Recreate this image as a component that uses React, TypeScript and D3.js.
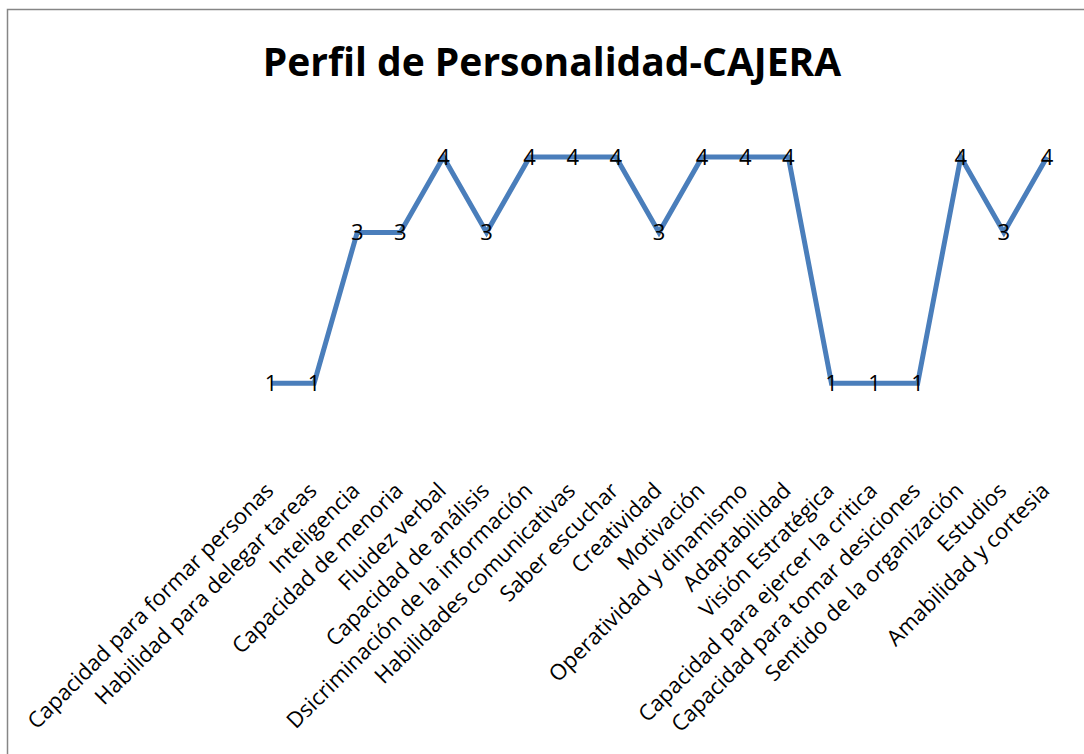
import React, { useEffect, useRef } from "react";
import * as d3 from "d3";

const categories = [
  "Capacidad para formar personas",
  "Habilidad para delegar tareas",
  "Inteligencia",
  "Capacidad de menoria",
  "Fluidez verbal",
  "Capacidad de análisis",
  "Dsicriminación de la información",
  "Habilidades comunicativas",
  "Saber escuchar",
  "Creatividad",
  "Motivación",
  "Operatividad y dinamismo",
  "Adaptabilidad",
  "Visión Estratégica",
  "Capacidad para ejercer la critica",
  "Capacidad para tomar desiciones",
  "Sentido de la organización",
  "Estudios",
  "Amabilidad y cortesia",
];
const values = [1, 1, 3, 3, 4, 3, 4, 4, 4, 3, 4, 4, 4, 1, 1, 1, 4, 3, 4];
const title = "Perfil de Personalidad-CAJERA";

const width = 1084, height = 754;
const font = "'Open Sans', sans-serif";

const drawChart = (container: SVGSVGElement | null) => {
  if (!container) return;
  const svg = d3.select(container);
  svg.selectAll("*").remove();

  svg.append("rect").attr("width", width).attr("height", height).attr("fill", "#fff");

  // chart border (runs off the right and bottom edge)
  svg.append("rect")
    .attr("x", 7.5).attr("y", 9.5)
    .attr("width", width + 10).attr("height", height + 10)
    .attr("fill", "none").attr("stroke", "#868686").attr("stroke-width", 1.5);

  const x = d3.scalePoint<string>().domain(categories).range([271, 1047]);
  const y = d3.scaleLinear().domain([0, 4]).range([458.5, 157]);

  svg.append("text")
    .attr("x", 552).attr("y", 76)
    .attr("text-anchor", "middle")
    .attr("font-family", font).attr("font-weight", "bold").attr("font-size", 39)
    .text(title);

  const line = d3.line<number>()
    .x((_, i) => x(categories[i])!)
    .y(d => y(d));

  svg.append("path")
    .datum(values)
    .attr("d", line)
    .attr("fill", "none")
    .attr("stroke", "#4a7ebb")
    .attr("stroke-width", 5)
    .attr("stroke-linejoin", "miter");

  // value labels at each point
  svg.append("g").selectAll("text")
    .data(values)
    .join("text")
    .attr("x", (_, i) => x(categories[i])!)
    .attr("y", d => y(d))
    .attr("dy", "0.36em")
    .attr("text-anchor", "middle")
    .attr("font-family", font).attr("font-size", 22)
    .text(d => d);

  // rotated category labels
  svg.append("g").selectAll("text")
    .data(categories)
    .join("text")
    .attr("transform", d => `translate(${x(d)! + 4},${492}) rotate(-45)`)
    .attr("text-anchor", "end")
    .attr("font-family", font).attr("font-size", 22)
    .text(d => d);
};

const App = () => {
  const ref = useRef<SVGSVGElement>(null);
  useEffect(() => {
    drawChart(ref.current);
  }, []);
  return (
    <svg ref={ref} width={width} height={height}
      style={{ position: "absolute", left: 0, top: 0, display: "block" }} />
  );
};

export default App;
